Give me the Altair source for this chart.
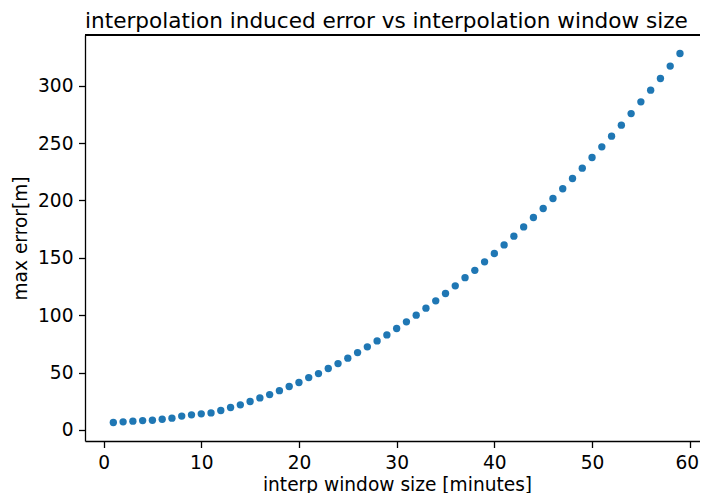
import altair as alt
import pandas as pd

window = list(range(1, 60))
max_error = [6.4, 7.0, 7.6, 8.1, 8.4, 9.3, 10.2, 12.0, 13.1, 14.0,
             14.8, 16.9, 19.5, 21.8, 24.7, 27.9, 30.8, 34.2, 37.8, 41.3,
             45.6, 49.1, 53.5, 57.8, 62.5, 67.4, 72.4, 77.6, 82.8, 88.4,
             94.2, 100.0, 106.1, 112.5, 118.9, 125.6, 132.7, 139.1, 146.5, 153.8,
             161.3, 168.9, 177.0, 185.2, 193.0, 201.7, 210.2, 219.2, 228.2, 237.5,
             246.8, 256.1, 265.7, 275.8, 286.0, 296.2, 306.4, 317.2, 328.2]
x_ticks = [0, 10, 20, 30, 40, 50, 60]
y_ticks = [0, 50, 100, 150, 200, 250, 300]

df = pd.DataFrame({"window": window, "err": max_error})

FONT = "DejaVu Sans"
W, H = 615, 406

points = alt.Chart(df).mark_circle(size=54, color="#1f77b4", opacity=1).encode(
    x=alt.X("window:Q",
            scale=alt.Scale(domain=[-1.9, 61.05], nice=False, zero=False),
            axis=alt.Axis(values=x_ticks, format="d", grid=False,
                          title="interp window size [minutes]",
                          titleX=312, titleY=43, titleAlign="center", titleBaseline="middle",
                          labelOffset={"condition": {"test": "datum.value == 60", "value": -3},
                                       "value": 0},
                          domain=True)),
    y=alt.Y("err:Q",
            scale=alt.Scale(domain=[-9.7, 344.3], nice=False, zero=False),
            axis=alt.Axis(values=y_ticks, format="d", grid=False,
                          title="max error[m]",
                          titleX=-65, titleY=H / 2, titleAngle=-90,
                          titleAlign="center", titleBaseline="middle",
                          domain=True)),
)

top_spine = alt.Chart(df).mark_rule(color="black", strokeWidth=1.3).encode(
    x=alt.value(0), x2=alt.value(W), y=alt.value(0)
)

chart = alt.layer(points, top_spine).properties(
    width=W, height=H,
    title=alt.TitleParams("interpolation induced error vs interpolation window size",
                          anchor="start", font=FONT, fontSize=21.6, fontWeight="normal",
                          color="black", offset=8, baseline="alphabetic", frame="group", dy=23),
    autosize=alt.AutoSizeParams(type="none"),
    padding={"left": 77, "top": 27, "right": 0, "bottom": 52},
    background="white",
).configure_view(
    stroke=None
).configure_axis(
    labelFont=FONT, labelFontSize=18.6, labelColor="black",
    titleFont=FONT, titleFontSize=18.6, titleColor="black", titleFontWeight="normal",
    tickColor="black", tickSize=6.5, tickWidth=1.3, labelPadding=5.5,
    domainColor="black", domainWidth=1.3,
)

chart.save("out.html", embed_options={"renderer": "svg", "actions": False})
